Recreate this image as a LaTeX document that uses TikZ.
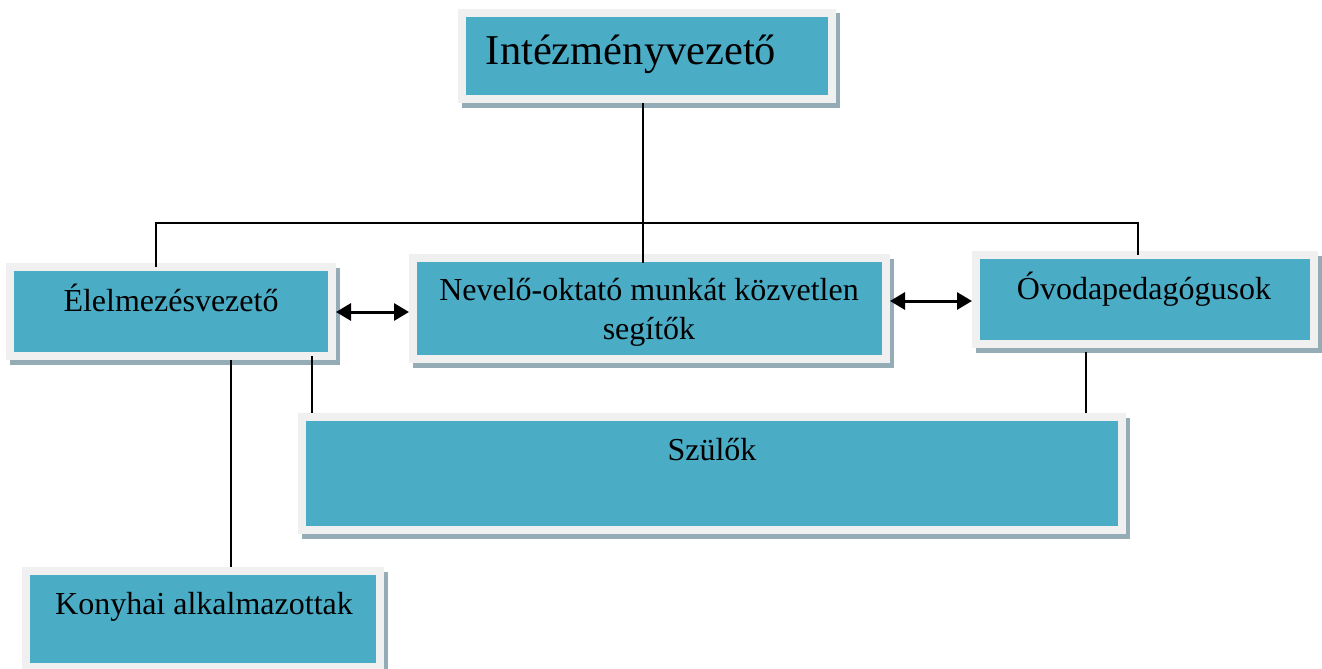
\documentclass[tikz,border=0pt]{standalone}
\usepackage{fontspec}
\setmainfont{Liberation Serif}
\usetikzlibrary{arrows.meta,calc}
\definecolor{teal1}{HTML}{4BACC6}
\definecolor{frame1}{HTML}{F0F0F0}
\definecolor{shade1}{HTML}{93ACB5}
\tikzset{
  box/.style={rectangle, fill=teal1, draw=frame1, line width=8pt, outer sep=4pt, inner sep=0pt,
    preaction={fill=shade1, draw=shade1, line width=8pt, transform canvas={xshift=3.5pt,yshift=-4.5pt}}},
  txt/.style={anchor=base, inner sep=0pt, font=\fontsize{32}{38}\selectfont},
  conn/.style={line width=2.2pt, black},
  tipA/.tip={Triangle[length=15pt,width=17pt]},
  arr/.style={line width=3pt, black, tipA-tipA}
}
\begin{document}
\begin{tikzpicture}[x=1pt,y=-1pt]
\useasboundingbox (0,0) rectangle (1322,669);
\clip (0,0) rectangle (1322,669);
% boxes
\node[box, minimum width=370pt, minimum height=86pt] (intez) at (647,56) {};
\node[box, minimum width=322pt, minimum height=89pt] (elelm) at (171,311.5) {};
\node[box, minimum width=473pt, minimum height=101pt] (nevelo) at (649.5,308.5) {};
\node[box, minimum width=338pt, minimum height=89pt] (ovoda) at (1145,299.5) {};
\node[box, minimum width=820pt, minimum height=113pt] (szulok) at (712,473.5) {};
\node[box, minimum width=354pt, minimum height=96pt] (konyha) at (203,619) {};
% texts
\node[txt, font=\fontsize{42.5}{50}\selectfont] (t1) at (631,64) {Intézményvezető};
\node[txt] (t2) at (171,311) {Élelmezésvezető};
\node[txt] (t3a) at (649,300) {Nevelő-oktató munkát közvetlen};
\node[txt] (t3b) at (649,339) {segítők};
\node[txt] (t4) at (1144,299) {Óvodapedagógusok};
\node[txt] (t5) at (712,460) {Szülők};
\node[txt] (t6) at (204,614) {Konyhai alkalmazottak};
% helper coordinates
\coordinate (top) at (643,223);
\coordinate (bl) at (156,223);
\coordinate (br) at (1138,223);
\coordinate (kx) at (231,500);
\coordinate (sx) at (312,400);
\coordinate (ox) at (1086,400);
\coordinate (a1) at (370,312);
\coordinate (a2) at (930,301);
% connectors
\draw[conn] (intez.south -| top) -- ([yshift=-9pt]nevelo.north -| top);
\draw[conn] ([yshift=-4pt]elelm.north -| bl) -- (bl) -- (br) -- ([yshift=-4pt]ovoda.north -| br);
\draw[conn] (elelm.south -| kx) -- (konyha.north -| kx);
\draw[conn] ([yshift=4pt]elelm.south -| sx) -- (szulok.north -| sx);
\draw[conn] ([yshift=-4pt]ovoda.south -| ox) -- (szulok.north -| ox);
\draw[arr] (elelm.east |- a1) -- (nevelo.west |- a1);
\draw[arr] (nevelo.east |- a2) -- (ovoda.west |- a2);
\end{tikzpicture}
\end{document}
